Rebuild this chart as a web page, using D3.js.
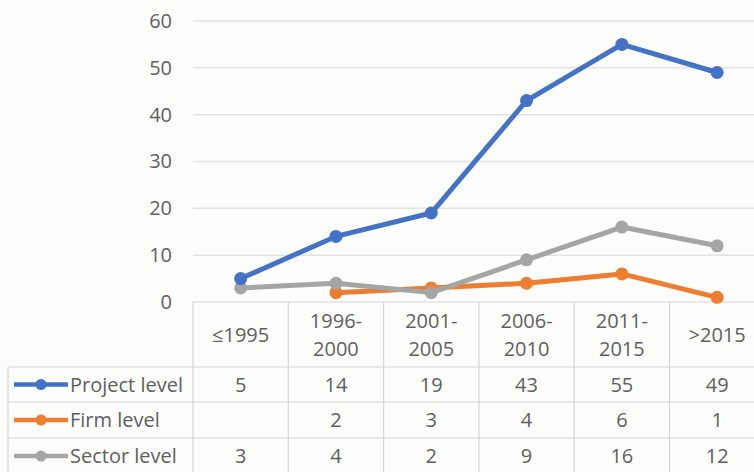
<!DOCTYPE html>
<html>
<head>
<meta charset="utf-8">
<script src="https://cdn.jsdelivr.net/npm/d3@7"></script>
<style>
  html, body { margin: 0; padding: 0; background: #fdfdfb; overflow: hidden; }
  svg { display: block; }
  text { font-family: "Open Sans", "Noto Sans", sans-serif; fill: #5f5f5f; }
</style>
</head>
<body>
<svg id="chart" width="754" height="472"></svg>
<script>
// Period categories (header lines) and series values
const categories = ["≤1995", "1996-2000", "2001-2005", "2006-2010", "2011-2015", ">2015"];
const categoryLines = [["≤1995"], ["1996-", "2000"], ["2001-", "2005"], ["2006-", "2010"], ["2011-", "2015"], [">2015"]];
const projectLevel = [5, 14, 19, 43, 55, 49];
const firmLevel = [null, 2, 3, 4, 6, 1];
const sectorLevel = [3, 4, 2, 9, 16, 12];
const yTicks = [0, 10, 20, 30, 40, 50, 60];

const series = [
  { name: "Project level", values: projectLevel, color: "#4472C4" },
  { name: "Firm level", values: firmLevel, color: "#ED7D31" },
  { name: "Sector level", values: sectorLevel, color: "#A5A5A5" }
];

const fontSize = "20px";
const svg = d3.select("#chart");
const plotLeft = 193, colW = 95.3;
const tableLeft = 8;
const x = d3.scaleBand().domain(categories).range([plotLeft, plotLeft + colW * categories.length]).padding(0);
const y = d3.scaleLinear().domain([0, 60]).range([302, 21]);

// Horizontal gridlines
const gridColor = "#e3e3e1";
svg.append("g").selectAll("line").data(yTicks.filter(d => d > 0)).join("line")
  .attr("x1", plotLeft).attr("x2", 754)
  .attr("y1", d => y(d)).attr("y2", d => y(d))
  .attr("stroke", gridColor).attr("stroke-width", 1.5);

// Y axis labels
const yAxis = d3.axisLeft(y).tickValues(yTicks).tickSize(0).tickPadding(21);
const yg = svg.append("g").attr("transform", `translate(${plotLeft},0)`).call(yAxis);
yg.select(".domain").remove();
yg.selectAll("text").style("font-size", fontSize).style("font-family", "'Open Sans', sans-serif").attr("fill", "#5f5f5f");

// Data table grid
const rowTops = [302, 367, 402, 438, 474];
const tableLine = "#d6d6d4";
const tg = svg.append("g").attr("stroke", tableLine).attr("stroke-width", 1.2);
// header row top edge (axis line) across value columns
tg.append("line").attr("x1", plotLeft).attr("x2", 754).attr("y1", rowTops[0]).attr("y2", rowTops[0]);
// horizontal lines for the series rows
rowTops.slice(1).forEach(ry => {
  tg.append("line").attr("x1", tableLeft).attr("x2", 754).attr("y1", ry).attr("y2", ry);
});
// vertical column boundaries
categories.forEach(c => {
  tg.append("line").attr("x1", x(c)).attr("x2", x(c)).attr("y1", rowTops[0]).attr("y2", 472);
});
tg.append("line").attr("x1", tableLeft).attr("x2", tableLeft).attr("y1", rowTops[1]).attr("y2", 472);

// Header labels
const header = svg.append("g");
categories.forEach((c, i) => {
  const lines = categoryLines[i];
  const cx = x(c) + x.bandwidth() / 2;
  const cy = (rowTops[0] + rowTops[1]) / 2;
  lines.forEach((ln, j) => {
    header.append("text")
      .attr("x", cx)
      .attr("y", cy + (j - (lines.length - 1) / 2) * 28)
      .attr("dy", "0.35em")
      .attr("text-anchor", "middle")
      .style("font-size", fontSize)
      .text(ln);
  });
});

// Series rows: legend key, name and values
series.forEach((s, r) => {
  const cy = (rowTops[r + 1] + rowTops[r + 2]) / 2;
  const g = svg.append("g");
  g.append("line").attr("x1", 14).attr("x2", 68).attr("y1", cy).attr("y2", cy)
    .attr("stroke", s.color).attr("stroke-width", 4.5);
  g.append("circle").attr("cx", 41).attr("cy", cy).attr("r", 5.5).attr("fill", s.color);
  g.append("text").attr("x", 70).attr("y", cy).attr("dy", "0.35em")
    .style("font-size", fontSize).text(s.name);
  s.values.forEach((v, i) => {
    if (v == null) return;
    g.append("text")
      .attr("x", x(categories[i]) + x.bandwidth() / 2)
      .attr("y", cy).attr("dy", "0.35em")
      .attr("text-anchor", "middle")
      .style("font-size", fontSize)
      .text(v);
  });
});

// Lines and markers (drawn in reverse so Project level sits on top)
const line = d3.line()
  .defined(d => d.v != null)
  .x(d => x(d.c) + x.bandwidth() / 2)
  .y(d => y(d.v));

const order = [series[1], series[2], series[0]];
order.forEach(s => {
  const pts = categories.map((c, i) => ({ c, v: s.values[i] }));
  svg.append("path").datum(pts)
    .attr("d", line)
    .attr("fill", "none")
    .attr("stroke", s.color)
    .attr("stroke-width", 5)
    .attr("stroke-linejoin", "round")
    .attr("stroke-linecap", "round");
  svg.append("g").selectAll("circle").data(pts.filter(d => d.v != null)).join("circle")
    .attr("cx", d => x(d.c) + x.bandwidth() / 2)
    .attr("cy", d => y(d.v))
    .attr("r", 6.5)
    .attr("fill", s.color);
});
</script>
</body>
</html>
